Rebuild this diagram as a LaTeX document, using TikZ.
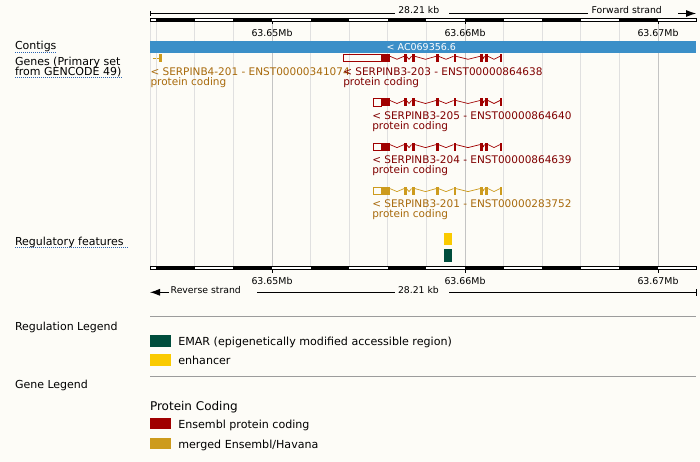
\documentclass[tikz,border=0pt]{standalone}
\usepackage{fontspec}
\setmainfont{DejaVu Sans}
\usetikzlibrary{arrows.meta}
\definecolor{bg}{HTML}{FDFCF7}
\definecolor{gridl}{HTML}{E0E0E0}
\definecolor{gridm}{HTML}{C4C4C4}
\definecolor{contig}{HTML}{3B8FC8}
\definecolor{ensred}{HTML}{A00000}
\definecolor{redtxt}{HTML}{800000}
\definecolor{gold}{HTML}{CD9B1D}
\definecolor{goldtxt}{HTML}{A86A0C}
\definecolor{emar}{HTML}{004D3C}
\definecolor{enh}{HTML}{FACA00}
\definecolor{linkblue}{HTML}{2B64B0}
\definecolor{legline}{HTML}{9C9C9C}
\newcommand{\fsz}[1]{\fontsize{#1}{#1}\selectfont}
\newcommand{\tscript}[3]{%
  \draw[#3, line width=0.9pt] ({#2+0.45},{#1+0.45}) rectangle (381.5,{#1+7.55});
  \fill[#3] (381.5,#1) rectangle (390,{#1+8});
  \foreach \a/\b in {404/406.5, 411.5/415, 436/438.5, 453.5/456, 480/482.5, 484.5/488, 500/502}
    \fill[#3] (\a,#1) rectangle (\b,{#1+8});
  \draw[#3, line width=0.7pt] (390,{#1+2}) -- (397,{#1+5}) -- (404,{#1+2})
    (406.5,{#1+2}) -- (409,{#1+5}) -- (411.5,{#1+2})
    (415,{#1+2}) -- (425.5,{#1+5}) -- (436,{#1+2})
    (438.5,{#1+2}) -- (446,{#1+5}) -- (453.5,{#1+2})
    (456,{#1+2}) -- (468,{#1+5}) -- (480,{#1+2})
    (482.5,{#1+2}) -- (483.5,{#1+4}) -- (484.5,{#1+2})
    (488,{#1+2}) -- (494,{#1+5}) -- (500,{#1+2});
}
\tikzset{
  txt/.style={inner sep=0pt, outer sep=0pt, anchor=base west},
  ctxt/.style={inner sep=0pt, outer sep=0pt, anchor=base},
  scaletxt/.style={txt, font=\fsz{9.3}},
  ticktxt/.style={ctxt, font=\fsz{9.4}},
  genetxt/.style={txt, font=\fsz{10.5}},
  lefttxt/.style={txt, font=\fsz{11}},
  legtxt/.style={txt, font=\fsz{11.1}},
  uline/.style={linkblue, line width=0.8pt, dash pattern=on 1pt off 1pt},
  strandarrow/.style={line width=0.8pt, -{Latex[length=10pt,width=7pt]}},
}
\begin{document}
\begin{tikzpicture}[x=1pt,y=-1pt]
\fill[bg] (0,0) rectangle (700,462);
\useasboundingbox (0,0) rectangle (700,462);

% grid lines
\foreach \x in {150.5,156.2,194.8,233.4,310.6,349.2,387.8,426.4,503.6,542.2,580.8,619.4}
  \draw[gridl, line width=0.8pt] (\x,21.7) -- (\x,266);
\foreach \x in {272,465,658}
  \draw[gridm, line width=0.8pt] (\x,21.7) -- (\x,266);

% top scale
\draw[line width=0.8pt] (150,11) -- (150,16);
\draw[line width=0.8pt] (150,13.5) -- (395,13.5);
\node[scaletxt] (kbtop) at (398.3,14) {28.21 kb};
\draw[line width=0.8pt] (449,13.5) -- (588,13.5);
\node[scaletxt] (fwd) at (591.7,14) {Forward strand};
\draw[strandarrow] (678,13.5) -- (696,13.5);

\draw[line width=0.8pt, fill=white] (150,18) rectangle (696,21.5);
\foreach \a in {156.2,233.4,310.6,387.8,465,542.2,619.4}
  \fill (\a,18) rectangle ({\a+38.6},21.5);
\draw[line width=0.8pt] (150,18) rectangle (696,21.5);
\foreach \x in {272,465,658} \draw[line width=0.8pt] (\x,21.5) -- (\x,23.8);
\node[ticktxt] (t1) at (272,36.3) {63.65Mb};
\node[ticktxt] (t2) at (465,36.3) {63.66Mb};
\node[ticktxt] (t3) at (658,36.3) {63.67Mb};

% contigs
\fill[contig] (150,40.7) rectangle (696,52.7);
\node[txt, font=\fsz{9.5}, text=white] (ctg) at (386.7,50.5) {< AC069356.6};

% left labels
\node[lefttxt] (lcontigs) at (15,50) {Contigs};
\draw[uline] (15,52.6) -- (57,52.6);
\node[lefttxt] (lgenes1) at (15,65.3) {Genes (Primary set};
\node[lefttxt] (lgenes2) at (15,75.3) {from GENCODE 49)};
\draw[uline] (15,77.6) -- (123,77.6);
\node[lefttxt] (lreg) at (15,245) {Regulatory features};
\draw[uline] (15,247.6) -- (128,247.6);

% SERPINB4-201
\draw[gold, line width=1pt] (152.7,58.3) -- (155.7,58.3);
\draw[gold, line width=0.8pt] (157.3,58.3) -- (159.3,58.3);
\fill[gold] (159.3,54.3) rectangle (162,62.3);
\node[genetxt, text=goldtxt] (b4a) at (150.5,75.5) {< SERPINB4-201 - ENST00000341074};
\node[genetxt, text=goldtxt] (b4b) at (150.5,86) {protein coding};

% SERPINB3 transcripts
\tscript{54.3}{343.3}{ensred}
\node[genetxt, text=redtxt] (b3a) at (343.3,75.5) {< SERPINB3-203 - ENST00000864638};
\node[genetxt, text=redtxt] (b3b) at (343.3,86) {protein coding};

\tscript{98.5}{372.5}{ensred}
\node[genetxt, text=redtxt] (b5a) at (372.3,119.5) {< SERPINB3-205 - ENST00000864640};
\node[genetxt, text=redtxt] (b5b) at (372.3,130) {protein coding};

\tscript{142.6}{372.5}{ensred}
\node[genetxt, text=redtxt] (b6a) at (372.3,163.5) {< SERPINB3-204 - ENST00000864639};
\node[genetxt, text=redtxt] (b6b) at (372.3,174) {protein coding};

\tscript{186.6}{372.5}{gold}
\node[genetxt, text=goldtxt] (b7a) at (372.3,207.5) {< SERPINB3-201 - ENST00000283752};
\node[genetxt, text=goldtxt] (b7b) at (372.3,218) {protein coding};

% regulatory features
\fill[enh] (444,232.5) rectangle (452,245.3);
\fill[emar] (444,248.7) rectangle (452,261.5);

% bottom scale
\draw[line width=0.8pt, fill=white] (150,266) rectangle (696,269.5);
\foreach \a in {156.2,233.4,310.6,387.8,465,542.2,619.4}
  \fill (\a,266) rectangle ({\a+38.6},269.5);
\draw[line width=0.8pt] (150,266) rectangle (696,269.5);
\foreach \x in {272,465,658} \draw[line width=0.8pt] (\x,269.5) -- (\x,272.5);
\node[ticktxt] (b1) at (272,284) {63.65Mb};
\node[ticktxt] (b2) at (465,284) {63.66Mb};
\node[ticktxt] (b3) at (658,284) {63.67Mb};
\draw[strandarrow] (169,292.3) -- (150,292.3);
\node[scaletxt] (rev) at (170.7,293.3) {Reverse strand};
\draw[line width=0.8pt] (257,292.3) -- (395,292.3);
\node[scaletxt] (kbbot) at (398,293.3) {28.21 kb};
\draw[line width=0.8pt] (449,292.3) -- (696,292.3);
\draw[line width=0.8pt] (696,289) -- (696,295.5);

% legends
\draw[legline, line width=0.8pt] (150,316.7) -- (696,316.7);
\node[lefttxt] (reglegend) at (15,330) {Regulation Legend};
\fill[emar] (150,335) rectangle (171,346.7);
\node[legtxt] (lemar) at (178.3,345.3) {EMAR (epigenetically modified accessible region)};
\fill[enh] (150,354) rectangle (171,365.7);
\node[legtxt] (lenh) at (178.3,364.3) {enhancer};
\draw[legline, line width=0.8pt] (150,376) -- (696,376);
\node[lefttxt] (genelegend) at (15,388.3) {Gene Legend};
\node[txt, font=\fsz{12}] (pc) at (150,410) {Protein Coding};
\fill[ensred] (150,418.3) rectangle (171,429.3);
\node[legtxt] (lens) at (178.3,428.7) {Ensembl protein coding};
\fill[gold] (150,438.3) rectangle (171,449.3);
\node[legtxt] (lmerged) at (178.3,448.7) {merged Ensembl/Havana};
\end{tikzpicture}
\end{document}
